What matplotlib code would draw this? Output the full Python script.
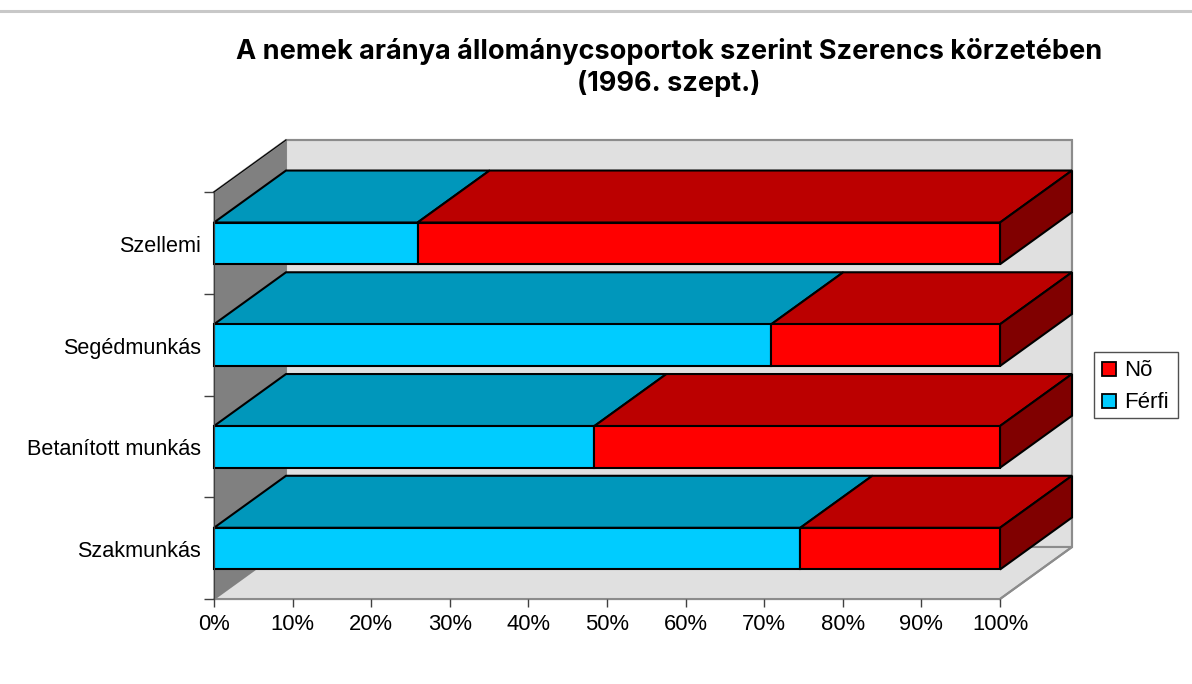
import numpy as np
import matplotlib
matplotlib.use("Agg")
import matplotlib.pyplot as plt
from matplotlib.patches import Polygon, Rectangle
from matplotlib.lines import Line2D

plt.rcParams['font.family'] = ['Liberation Sans', 'DejaVu Sans']

categories = ['Szakmunkás', 'Betanított munkás', 'Segédmunkás', 'Szellemi']
ferfi = [74.6, 48.4, 70.9, 25.9]
no = [25.4, 51.6, 29.1, 74.1]
xticks = [0, 10, 20, 30, 40, 50, 60, 70, 80, 90, 100]
title = 'A nemek aránya állománycsoportok szerint Szerencs körzetében\n(1996. szept.)'

W, H = 1192, 684
fig = plt.figure(figsize=(W/100, H/100), dpi=100)
ax = fig.add_axes([214/W, 1-599/H, 786/W, 407/H])
ax.set_xlim(0, 100)
ax.set_ylim(-0.5, 3.5)

# depth of the 3d box in data units
dx = 72/786*100
dy = 52/101.75
bar_h = 0.41

def poly(pts, fc, ec='black', lw=1.5, z=2):
    ax.add_patch(Polygon(pts, closed=True, facecolor=fc, edgecolor=ec, lw=lw, zorder=z,
                         clip_on=False, joinstyle='miter'))

# walls and floor
poly([(dx, -0.5+dy), (100+dx, -0.5+dy), (100+dx, 3.5+dy), (dx, 3.5+dy)], '#e0e0e0', '#8c8c8c', 1.5, 1)
poly([(0, -0.5), (100, -0.5), (100+dx, -0.5+dy), (dx, -0.5+dy)], '#e0e0e0', '#8c8c8c', 1.5, 1)
poly([(0, -0.5), (dx, -0.5+dy), (dx, 3.5+dy), (0, 3.5)], '#808080', '#808080', 0.8, 1)
ax.plot([0, dx, 100+dx, 100+dx, 100], [3.5, 3.5+dy, 3.5+dy, -0.5+dy, -0.5], color='#8c8c8c', lw=1.5,
        zorder=1.5, clip_on=False)
ax.plot([0, dx], [3.5, 3.5+dy], color='black', lw=0.8, zorder=1.6, clip_on=False)

# bars, bottom one drawn last so it sits in front
for i in range(3, -1, -1):
    f = ferfi[i]
    t = f + no[i]
    lo = i - bar_h/2 - 0.005
    hi = i + bar_h/2 - 0.005
    z = 10 - i
    poly([(0, hi), (f, hi), (f+dx, hi+dy), (dx, hi+dy)], '#0097bb', z=z)
    poly([(f, hi), (t, hi), (t+dx, hi+dy), (f+dx, hi+dy)], '#bb0000', z=z)
    poly([(t, lo), (t+dx, lo+dy), (t+dx, hi+dy), (t, hi)], '#800000', z=z)
    ax.barh(i-0.005, f, height=hi-lo, color='#00ccff', edgecolor='black', lw=1.5, zorder=z+0.5, clip_on=False)
    ax.barh(i-0.005, no[i], left=f, height=hi-lo, color='#ff0000', edgecolor='black', lw=1.5, zorder=z+0.5, clip_on=False)

for s in ['top', 'right']:
    ax.spines[s].set_visible(False)
ax.spines['left'].set_color('#404040')
ax.spines['left'].set_zorder(20)
ax.spines['bottom'].set_color('#606060')
ax.spines['bottom'].set_zorder(0.5)
ax.patch.set_visible(False)

ax.set_xticks(xticks)
ax.set_xticklabels([str(v)+'%' for v in xticks], fontsize=15.8)
ax.tick_params(axis='x', length=6, width=1, color='#404040', pad=5)
ax.set_yticks([-0.5, 0.5, 1.5, 2.5, 3.5])
ax.set_yticklabels([])
ax.tick_params(axis='y', length=7, width=1, color='#404040')
for i, c in enumerate(categories):
    ax.annotate(c, xy=(0, i), xytext=(-9.5, -2.5), textcoords='offset points',
                ha='right', va='center', fontsize=15.6)

fig.text(669/W, 1-67.5/H, title, ha='center', va='center', fontsize=19.5, fontweight='bold',
         family=['Inter', 'Liberation Sans'], linespacing=1.2)

# rule at the top of the page
fig.add_artist(Line2D([0, 1], [1-11/H, 1-11/H], color='#c8c8c8', lw=2.2))

# legend
lx, ly, lw_, lh = 1094, 352, 84, 66
fig.add_artist(Rectangle((lx/W, 1-(ly+lh)/H), lw_/W, lh/H, transform=fig.transFigure,
                         facecolor='white', edgecolor='#505050', lw=1))
for name, col, yy in [('Nõ', '#ff0000', 369), ('Férfi', '#00ccff', 401)]:
    fig.add_artist(Rectangle((1102/W, 1-(yy+7)/H), 14/W, 14/H, transform=fig.transFigure,
                             facecolor=col, edgecolor='black', lw=1.3))
    fig.text(1124/W, 1-(yy+2)/H, name, ha='left', va='center', fontsize=16)

fig.savefig('out.png', dpi=100)
